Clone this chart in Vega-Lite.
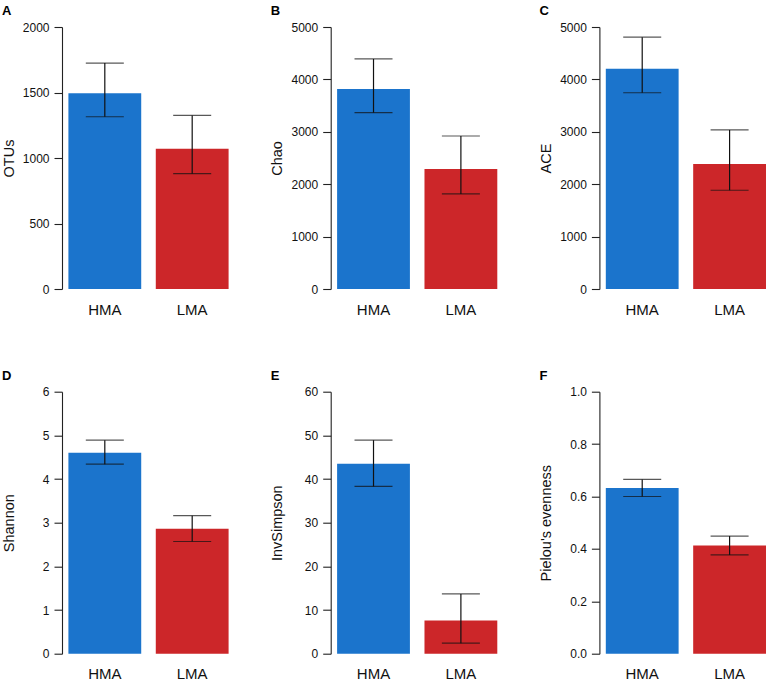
{
  "$schema": "https://vega.github.io/schema/vega-lite/v6.json",
  "padding": {"left": 1, "top": 5, "right": 0, "bottom": 0},
  "background": "white",
  "datasets": {
    "alpha": [
      {"metric": "OTUs", "group": "HMA", "value": 1495, "lo": 1315, "hi": 1725},
      {"metric": "OTUs", "group": "LMA", "value": 1070, "lo": 880, "hi": 1325},
      {"metric": "Chao", "group": "HMA", "value": 3815, "lo": 3365, "hi": 4390},
      {"metric": "Chao", "group": "LMA", "value": 2290, "lo": 1815, "hi": 2920},
      {"metric": "ACE", "group": "HMA", "value": 4205, "lo": 3745, "hi": 4805},
      {"metric": "ACE", "group": "LMA", "value": 2385, "lo": 1885, "hi": 3035},
      {"metric": "Shannon", "group": "HMA", "value": 4.6, "lo": 4.34, "hi": 4.89},
      {"metric": "Shannon", "group": "LMA", "value": 2.86, "lo": 2.57, "hi": 3.16},
      {"metric": "InvSimpson", "group": "HMA", "value": 43.5, "lo": 38.3, "hi": 48.9},
      {"metric": "InvSimpson", "group": "LMA", "value": 7.6, "lo": 2.4, "hi": 13.7},
      {"metric": "Pielou", "group": "HMA", "value": 0.632, "lo": 0.6, "hi": 0.665},
      {"metric": "Pielou", "group": "LMA", "value": 0.413, "lo": 0.377, "hi": 0.449}
    ]
  },
  "data": {"name": "alpha"},
  "columns": 3,
  "spacing": {"row": 102.7, "column": 95.7},
  "bounds": "flush",
  "concat": [
    {
      "width": 173, "height": 262,
      "title": {"text": "A"},
      "transform": [{"filter": "datum.metric === 'OTUs'"}],
      "encoding": {"x": {"field": "group", "type": "nominal", "scale": {"paddingInner": 0.1667, "paddingOuter": 0.0733}}},
      "layer": [
        {"mark": {"type": "bar"}, "encoding": {
          "y": {"field": "value", "type": "quantitative", "title": "OTUs", "scale": {"domain": [0, 2000], "nice": false}, "axis": {"values": [0, 500, 1000, 1500, 2000], "format": "d"}},
          "color": {"field": "group", "type": "nominal", "scale": {"domain": ["HMA", "LMA"], "range": ["#1b74cc", "#cc2629"]}, "legend": null}}},
        {"mark": {"type": "errorbar", "ticks": {"size": 38, "thickness": 1.2, "color": "#111"}, "rule": {"color": "#111", "strokeWidth": 1.2}}, "encoding": {
          "y": {"field": "lo", "type": "quantitative", "title": "OTUs"}, "y2": {"field": "hi"}}}
      ]
    },
    {
      "width": 173, "height": 262,
      "title": {"text": "B"},
      "transform": [{"filter": "datum.metric === 'Chao'"}],
      "encoding": {"x": {"field": "group", "type": "nominal", "scale": {"paddingInner": 0.1667, "paddingOuter": 0.0733}}},
      "layer": [
        {"mark": {"type": "bar"}, "encoding": {
          "y": {"field": "value", "type": "quantitative", "title": "Chao", "scale": {"domain": [0, 5000], "nice": false}, "axis": {"values": [0, 1000, 2000, 3000, 4000, 5000], "format": "d"}},
          "color": {"field": "group", "type": "nominal", "scale": {"domain": ["HMA", "LMA"], "range": ["#1b74cc", "#cc2629"]}, "legend": null}}},
        {"mark": {"type": "errorbar", "ticks": {"size": 38, "thickness": 1.2, "color": "#111"}, "rule": {"color": "#111", "strokeWidth": 1.2}}, "encoding": {
          "y": {"field": "lo", "type": "quantitative", "title": "Chao"}, "y2": {"field": "hi"}}}
      ]
    },
    {
      "width": 173, "height": 262,
      "title": {"text": "C"},
      "transform": [{"filter": "datum.metric === 'ACE'"}],
      "encoding": {"x": {"field": "group", "type": "nominal", "scale": {"paddingInner": 0.1667, "paddingOuter": 0.0733}}},
      "layer": [
        {"mark": {"type": "bar"}, "encoding": {
          "y": {"field": "value", "type": "quantitative", "title": "ACE", "scale": {"domain": [0, 5000], "nice": false}, "axis": {"values": [0, 1000, 2000, 3000, 4000, 5000], "format": "d"}},
          "color": {"field": "group", "type": "nominal", "scale": {"domain": ["HMA", "LMA"], "range": ["#1b74cc", "#cc2629"]}, "legend": null}}},
        {"mark": {"type": "errorbar", "ticks": {"size": 38, "thickness": 1.2, "color": "#111"}, "rule": {"color": "#111", "strokeWidth": 1.2}}, "encoding": {
          "y": {"field": "lo", "type": "quantitative", "title": "ACE"}, "y2": {"field": "hi"}}}
      ]
    },
    {
      "width": 173, "height": 262,
      "title": {"text": "D"},
      "transform": [{"filter": "datum.metric === 'Shannon'"}],
      "encoding": {"x": {"field": "group", "type": "nominal", "scale": {"paddingInner": 0.1667, "paddingOuter": 0.0733}}},
      "layer": [
        {"mark": {"type": "bar"}, "encoding": {
          "y": {"field": "value", "type": "quantitative", "title": "Shannon", "scale": {"domain": [0, 6], "nice": false}, "axis": {"values": [0, 1, 2, 3, 4, 5, 6], "format": "d"}},
          "color": {"field": "group", "type": "nominal", "scale": {"domain": ["HMA", "LMA"], "range": ["#1b74cc", "#cc2629"]}, "legend": null}}},
        {"mark": {"type": "errorbar", "ticks": {"size": 38, "thickness": 1.2, "color": "#111"}, "rule": {"color": "#111", "strokeWidth": 1.2}}, "encoding": {
          "y": {"field": "lo", "type": "quantitative", "title": "Shannon"}, "y2": {"field": "hi"}}}
      ]
    },
    {
      "width": 173, "height": 262,
      "title": {"text": "E"},
      "transform": [{"filter": "datum.metric === 'InvSimpson'"}],
      "encoding": {"x": {"field": "group", "type": "nominal", "scale": {"paddingInner": 0.1667, "paddingOuter": 0.0733}}},
      "layer": [
        {"mark": {"type": "bar"}, "encoding": {
          "y": {"field": "value", "type": "quantitative", "title": "InvSimpson", "scale": {"domain": [0, 60], "nice": false}, "axis": {"values": [0, 10, 20, 30, 40, 50, 60], "format": "d"}},
          "color": {"field": "group", "type": "nominal", "scale": {"domain": ["HMA", "LMA"], "range": ["#1b74cc", "#cc2629"]}, "legend": null}}},
        {"mark": {"type": "errorbar", "ticks": {"size": 38, "thickness": 1.2, "color": "#111"}, "rule": {"color": "#111", "strokeWidth": 1.2}}, "encoding": {
          "y": {"field": "lo", "type": "quantitative", "title": "InvSimpson"}, "y2": {"field": "hi"}}}
      ]
    },
    {
      "width": 173, "height": 262,
      "title": {"text": "F"},
      "transform": [{"filter": "datum.metric === 'Pielou'"}],
      "encoding": {"x": {"field": "group", "type": "nominal", "scale": {"paddingInner": 0.1667, "paddingOuter": 0.0733}}},
      "layer": [
        {"mark": {"type": "bar"}, "encoding": {
          "y": {"field": "value", "type": "quantitative", "title": "Pielou's evenness", "scale": {"domain": [0, 1], "nice": false}, "axis": {"values": [0, 0.2, 0.4, 0.6, 0.8, 1.0], "format": ".1f"}},
          "color": {"field": "group", "type": "nominal", "scale": {"domain": ["HMA", "LMA"], "range": ["#1b74cc", "#cc2629"]}, "legend": null}}},
        {"mark": {"type": "errorbar", "ticks": {"size": 38, "thickness": 1.2, "color": "#111"}, "rule": {"color": "#111", "strokeWidth": 1.2}}, "encoding": {
          "y": {"field": "lo", "type": "quantitative", "title": "Pielou's evenness"}, "y2": {"field": "hi"}}}
      ]
    }
  ],
  "resolve": {"scale": {"y": "independent"}},
  "config": {
    "font": "Liberation Sans",
    "view": {"stroke": null},
    "title": {"font": "Liberation Sans", "fontSize": 13, "fontWeight": "bold", "color": "#000", "anchor": "start", "frame": "group", "dx": -60, "offset": 3},
    "axisY": {"grid": false, "domainColor": "#222", "tickColor": "#222", "domainWidth": 1.1, "tickWidth": 1.1, "tickSize": 8, "labelPadding": 5, "labelFontSize": 12, "labelColor": "#111", "labelFont": "Liberation Sans", "titleFont": "Liberation Sans", "titleFontSize": 14.5, "titleFontWeight": "normal", "titleColor": "#111", "titleX": -53, "titleY": 131, "titleAlign": "center", "titleBaseline": "middle", "titleAngle": -90},
    "axisX": {"domain": false, "ticks": false, "labelAngle": 0, "labelFontSize": 15, "labelPadding": 13, "labelColor": "#111", "labelFont": "Liberation Sans", "title": null}
  }
}
